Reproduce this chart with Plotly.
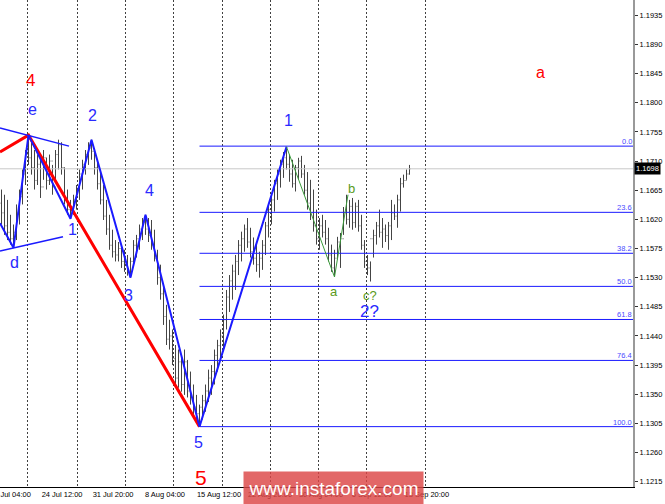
import plotly.graph_objects as go

# ---------------- data (EURUSD H4) ----------------
bar_open = [
    1.1645, 1.1630, 1.1610, 1.1600, 1.1590, 1.1600, 1.1630, 1.1655, 1.1690, 1.1720,
    1.1715, 1.1700, 1.1680, 1.1705, 1.1670, 1.1715, 1.1680, 1.1710, 1.1670, 1.1720,
    1.1735, 1.1700, 1.1650, 1.1635, 1.1640, 1.1650, 1.1665, 1.1690, 1.1705, 1.1720,
    1.1730, 1.1725, 1.1700, 1.1675, 1.1650, 1.1625, 1.1605, 1.1580, 1.1570, 1.1565,
    1.1575, 1.1555, 1.1550, 1.1540, 1.1555, 1.1580, 1.1590, 1.1605, 1.1615, 1.1605,
    1.1595, 1.1580, 1.1560, 1.1530, 1.1505, 1.1470, 1.1435, 1.1440, 1.1405, 1.1375,
    1.1400, 1.1365, 1.1400, 1.1355, 1.1345, 1.1330, 1.1320, 1.1330, 1.1340, 1.1355,
    1.1375, 1.1385, 1.1410, 1.1425, 1.1440, 1.1465, 1.1500, 1.1525, 1.1540, 1.1555,
    1.1580, 1.1590, 1.1605, 1.1585, 1.1570, 1.1560, 1.1550, 1.1560, 1.1580, 1.1610,
    1.1635, 1.1650, 1.1675, 1.1690, 1.1705, 1.1715, 1.1705, 1.1690, 1.1675, 1.1700,
    1.1710, 1.1690, 1.1665, 1.1645, 1.1630, 1.1610, 1.1590, 1.1610, 1.1600, 1.1590,
    1.1565, 1.1545, 1.1560, 1.1585, 1.1590, 1.1630, 1.1620, 1.1640, 1.1615, 1.1640,
    1.1610, 1.1580, 1.1555, 1.1545, 1.1590, 1.1595, 1.1610, 1.1600, 1.1605, 1.1595,
    1.1610, 1.1630, 1.1625, 1.1650, 1.1675, 1.1680, 1.1690,
]
bar_high = [
    1.1666, 1.1658, 1.1650, 1.1627, 1.1612, 1.1643, 1.1666, 1.1697, 1.1727, 1.1750,
    1.1743, 1.1727, 1.1720, 1.1712, 1.1727, 1.1715, 1.1720, 1.1704, 1.1727, 1.1743,
    1.1739, 1.1700, 1.1666, 1.1650, 1.1658, 1.1673, 1.1697, 1.1712, 1.1727, 1.1739,
    1.1743, 1.1730, 1.1712, 1.1697, 1.1673, 1.1650, 1.1627, 1.1604, 1.1588, 1.1585,
    1.1581, 1.1573, 1.1565, 1.1561, 1.1588, 1.1596, 1.1612, 1.1622, 1.1627, 1.1622,
    1.1619, 1.1604, 1.1573, 1.1550, 1.1519, 1.1488, 1.1465, 1.1450, 1.1426, 1.1419,
    1.1411, 1.1419, 1.1403, 1.1385, 1.1365, 1.1349, 1.1334, 1.1349, 1.1365, 1.1388,
    1.1395, 1.1419, 1.1434, 1.1450, 1.1473, 1.1511, 1.1534, 1.1550, 1.1565, 1.1588,
    1.1601, 1.1612, 1.1622, 1.1607, 1.1592, 1.1581, 1.1570, 1.1588, 1.1616, 1.1643,
    1.1658, 1.1681, 1.1697, 1.1712, 1.1724, 1.1732, 1.1720, 1.1712, 1.1704, 1.1715,
    1.1718, 1.1704, 1.1693, 1.1681, 1.1666, 1.1635, 1.1622, 1.1627, 1.1619, 1.1607,
    1.1581, 1.1573, 1.1593, 1.1599, 1.1639, 1.1658, 1.1650, 1.1653, 1.1646, 1.1650,
    1.1627, 1.1588, 1.1565, 1.1555, 1.1604, 1.1616, 1.1635, 1.1622, 1.1612, 1.1616,
    1.1650, 1.1643, 1.1658, 1.1684, 1.1689, 1.1697, 1.1704,
]
bar_low = [
    1.1612, 1.1596, 1.1588, 1.1581, 1.1576, 1.1588, 1.1612, 1.1643, 1.1673, 1.1704,
    1.1689, 1.1666, 1.1673, 1.1653, 1.1681, 1.1666, 1.1673, 1.1658, 1.1681, 1.1697,
    1.1689, 1.1643, 1.1627, 1.1621, 1.1627, 1.1635, 1.1650, 1.1666, 1.1689, 1.1704,
    1.1712, 1.1689, 1.1666, 1.1643, 1.1619, 1.1596, 1.1573, 1.1561, 1.1555, 1.1555,
    1.1545, 1.1539, 1.1533, 1.1530, 1.1550, 1.1561, 1.1573, 1.1588, 1.1596, 1.1585,
    1.1573, 1.1555, 1.1519, 1.1496, 1.1457, 1.1426, 1.1419, 1.1395, 1.1365, 1.1360,
    1.1354, 1.1349, 1.1345, 1.1334, 1.1318, 1.1311, 1.1300, 1.1311, 1.1323, 1.1338,
    1.1349, 1.1365, 1.1385, 1.1403, 1.1419, 1.1450, 1.1477, 1.1496, 1.1511, 1.1534,
    1.1555, 1.1570, 1.1576, 1.1561, 1.1550, 1.1539, 1.1530, 1.1542, 1.1565, 1.1592,
    1.1612, 1.1632, 1.1650, 1.1669, 1.1684, 1.1697, 1.1678, 1.1669, 1.1663, 1.1681,
    1.1684, 1.1658, 1.1635, 1.1619, 1.1601, 1.1581, 1.1573, 1.1592, 1.1581, 1.1555,
    1.1539, 1.1531, 1.1558, 1.1545, 1.1596, 1.1612, 1.1607, 1.1604, 1.1607, 1.1601,
    1.1573, 1.1545, 1.1534, 1.1524, 1.1561, 1.1581, 1.1592, 1.1576, 1.1585, 1.1573,
    1.1588, 1.1619, 1.1607, 1.1632, 1.1669, 1.1681, 1.1689,
]
bar_close = [
    1.1630, 1.1610, 1.1600, 1.1590, 1.1600, 1.1630, 1.1655, 1.1690, 1.1720, 1.1715,
    1.1700, 1.1680, 1.1705, 1.1670, 1.1715, 1.1680, 1.1710, 1.1670, 1.1720, 1.1735,
    1.1700, 1.1650, 1.1635, 1.1640, 1.1650, 1.1665, 1.1690, 1.1705, 1.1720, 1.1730,
    1.1725, 1.1700, 1.1675, 1.1650, 1.1625, 1.1605, 1.1580, 1.1570, 1.1565, 1.1575,
    1.1555, 1.1550, 1.1540, 1.1555, 1.1580, 1.1590, 1.1605, 1.1615, 1.1605, 1.1595,
    1.1580, 1.1560, 1.1530, 1.1505, 1.1470, 1.1435, 1.1440, 1.1405, 1.1375, 1.1400,
    1.1365, 1.1400, 1.1355, 1.1345, 1.1330, 1.1320, 1.1330, 1.1340, 1.1355, 1.1375,
    1.1385, 1.1410, 1.1425, 1.1440, 1.1465, 1.1500, 1.1525, 1.1540, 1.1555, 1.1580,
    1.1590, 1.1605, 1.1585, 1.1570, 1.1560, 1.1550, 1.1560, 1.1580, 1.1610, 1.1635,
    1.1650, 1.1675, 1.1690, 1.1705, 1.1715, 1.1705, 1.1690, 1.1675, 1.1700, 1.1710,
    1.1690, 1.1665, 1.1645, 1.1630, 1.1610, 1.1590, 1.1610, 1.1600, 1.1590, 1.1565,
    1.1545, 1.1560, 1.1585, 1.1590, 1.1630, 1.1620, 1.1640, 1.1615, 1.1640, 1.1610,
    1.1580, 1.1555, 1.1545, 1.1590, 1.1595, 1.1610, 1.1600, 1.1605, 1.1595, 1.1610,
    1.1630, 1.1625, 1.1650, 1.1675, 1.1680, 1.1690, 1.1698,
]
bar_idx = list(range(len(bar_close)))

current_price = 1.1698

# x-axis time labels (the first one is cut by the left edge of the chart)
time_labels = ["17 Jul 04:00", "24 Jul 12:00", "31 Jul 20:00", "8 Aug 04:00",
               "15 Aug 12:00", "22 Aug 20:00", "30 Aug 04:00", "6 Sep 12:00",
               "13 Sep 20:00"]
time_label_pos = [3.2, 20.2, 37.2, 54.5, 72.5, 89.5, 106.5, 123.5, 141.8]
grid_pos = [8.8, 25.2, 41.2, 57.2, 73.5, 89.5, 105.5, 121.8, 141.2]

# wave markings (bar index, price)
blue_wave_x = [-0.5, 4, 9, 23, 30, 43, 48, 66, 95]
blue_wave_y = [1.1614, 1.1576, 1.1750, 1.1621, 1.1743, 1.1530, 1.1627, 1.1300, 1.1732]
red_wave_x = [-0.5, 9, 66]
red_wave_y = [1.1724, 1.1750, 1.1300]
green_wave_x = [95, 111, 115.5]
green_wave_y = [1.1732, 1.1531, 1.1658]
tri_upper_x = [-0.5, 22.5]
tri_upper_y = [1.1761, 1.1733]
tri_lower_x = [-0.5, 20.5]
tri_lower_y = [1.1571, 1.1593]

# Fibonacci retracement
fib_high = 1.1733
fib_low = 1.1300
fib_start = 66
fib_ratios = [0.0, 23.6, 38.2, 50.0, 61.8, 76.4, 100.0]

# wave labels
lbl_text = ["4", "e", "d", "1", "2", "3", "4", "5", "5", "1", "a", "b", "c?", "2?", "a"]
lbl_x = [9.8, 10.2, 4.2, 23.8, 30.2, 42.2, 49.2, 65.8, 66.5, 95.5, 110.8, 116.5, 122.8, 122.8, 179.8]
lbl_y = [1.1834, 1.1789, 1.1554, 1.1605, 1.1781, 1.1502, 1.1665, 1.1275, 1.1221, 1.1772,
         1.1509, 1.1668, 1.1503, 1.1478, 1.1846]
lbl_color = ["#ff0000", "#2a2aff", "#2a2aff", "#2a2aff", "#2a2aff", "#2a2aff", "#2a2aff",
             "#2a2aff", "#ff0000", "#2a2aff", "#5a9a20", "#5a9a20", "#5a9a20", "#2a2aff", "#ff0000"]
lbl_size = [17, 16, 16, 16, 16, 16, 16, 16, 21, 16, 13, 13, 13, 17, 16]

X_MAX = 210.5
PLOT_W = 633.0
PLOT_H = 487.0
FONT = "Liberation Sans, Arial, sans-serif"

fig = go.Figure()

# current price line
fig.add_trace(go.Scatter(x=[-0.5, X_MAX], y=[current_price, current_price], mode="lines",
                         line=dict(color="#c8c8c8", width=1), hoverinfo="skip", showlegend=False))

# fib levels
fib_levels = [fib_high - r / 100.0 * (fib_high - fib_low) for r in fib_ratios]
for lvl in fib_levels:
    fig.add_trace(go.Scatter(x=[fib_start, X_MAX], y=[lvl, lvl], mode="lines",
                             line=dict(color="#1a1aff", width=1), hoverinfo="skip", showlegend=False))

# bars
fig.add_trace(go.Ohlc(x=bar_idx, open=bar_open, high=bar_high, low=bar_low, close=bar_close,
                      increasing=dict(line=dict(color="#444444", width=1)),
                      decreasing=dict(line=dict(color="#444444", width=1)),
                      tickwidth=0.3, hoverinfo="skip", showlegend=False))

# wave lines
fig.add_trace(go.Scatter(x=red_wave_x, y=red_wave_y, mode="lines",
                         line=dict(color="#ff0000", width=3), hoverinfo="skip", showlegend=False))
fig.add_trace(go.Scatter(x=tri_upper_x, y=tri_upper_y, mode="lines",
                         line=dict(color="#1a1aff", width=1.5), hoverinfo="skip", showlegend=False))
fig.add_trace(go.Scatter(x=tri_lower_x, y=tri_lower_y, mode="lines",
                         line=dict(color="#1a1aff", width=1.5), hoverinfo="skip", showlegend=False))
fig.add_trace(go.Scatter(x=blue_wave_x, y=blue_wave_y, mode="lines",
                         line=dict(color="#1a1aff", width=2), hoverinfo="skip", showlegend=False))
fig.add_trace(go.Scatter(x=green_wave_x, y=green_wave_y, mode="lines",
                         line=dict(color="#3a9a3a", width=1), hoverinfo="skip", showlegend=False))

annotations = []
for t, x, y, c, s in zip(lbl_text, lbl_x, lbl_y, lbl_color, lbl_size):
    annotations.append(dict(x=x, y=y, xref="x", yref="y", text=t, showarrow=False,
                            font=dict(color=c, size=s, family=FONT),
                            xanchor="center", yanchor="middle"))
for r, lvl in zip(fib_ratios, fib_levels):
    annotations.append(dict(x=1, y=lvl, xref="paper", yref="y", text=f"{r:.1f}", showarrow=False,
                            font=dict(color="#4a4aff", size=7.5, family=FONT),
                            xanchor="right", yanchor="bottom", borderpad=0, yshift=-1))
# first time label, partly outside the chart's left edge
annotations.append(dict(x=32 / PLOT_W, y=-7.5 / PLOT_H, xref="paper", yref="paper",
                        text=time_labels[0], showarrow=False,
                        font=dict(color="#000000", size=7.5, family=FONT),
                        xanchor="right", yanchor="middle", borderpad=0))
# current price tag
annotations.append(dict(x=1, y=current_price, xref="paper", yref="y", text=f"{current_price:.4f}",
                        showarrow=False, bgcolor="#000000", font=dict(color="#ffffff", size=7.5, family=FONT),
                        xanchor="left", yanchor="middle", xshift=1, borderpad=1))
# watermark
annotations.append(dict(x=0.527, y=-0.003, xref="paper", yref="paper", text="www.instaforex.com",
                        showarrow=False, bgcolor="rgba(220,70,70,0.82)",
                        font=dict(color="#ffffff", size=19, family=FONT),
                        width=177, height=30, xanchor="center", yanchor="middle"))

fig.update_layout(
    width=665, height=504,
    margin=dict(l=0, r=32, t=0, b=17, autoexpand=False),
    paper_bgcolor="#ffffff", plot_bgcolor="#ffffff",
    showlegend=False,
    annotations=annotations,
    xaxis=dict(range=[-0.5, X_MAX], showgrid=False, zeroline=False, automargin=False,
               tickmode="array", tickvals=time_label_pos[1:], ticktext=time_labels[1:],
               ticks="", tickfont=dict(size=7.5, color="#000000", family=FONT),
               showline=True, linecolor="#000000", linewidth=1,
               rangeslider=dict(visible=False), fixedrange=True,
               minor=dict(tickmode="array", tickvals=grid_pos, showgrid=True,
                          gridcolor="#404040", griddash="2px,2px", gridwidth=1, ticks="")),
    yaxis=dict(range=[1.12068, 1.19586], side="right", showgrid=False, zeroline=False,
               automargin=False,
               tick0=1.1215, dtick=0.0045, tickformat=".4f",
               ticks="outside", ticklen=3, tickcolor="#333333",
               tickfont=dict(size=7.5, color="#000000", family=FONT),
               showline=True, linecolor="#999999", linewidth=2, fixedrange=True),
)

fig.write_html("out.html", config={"displayModeBar": False},
               post_script="document.body.style.margin='0';document.body.style.overflow='hidden';")
